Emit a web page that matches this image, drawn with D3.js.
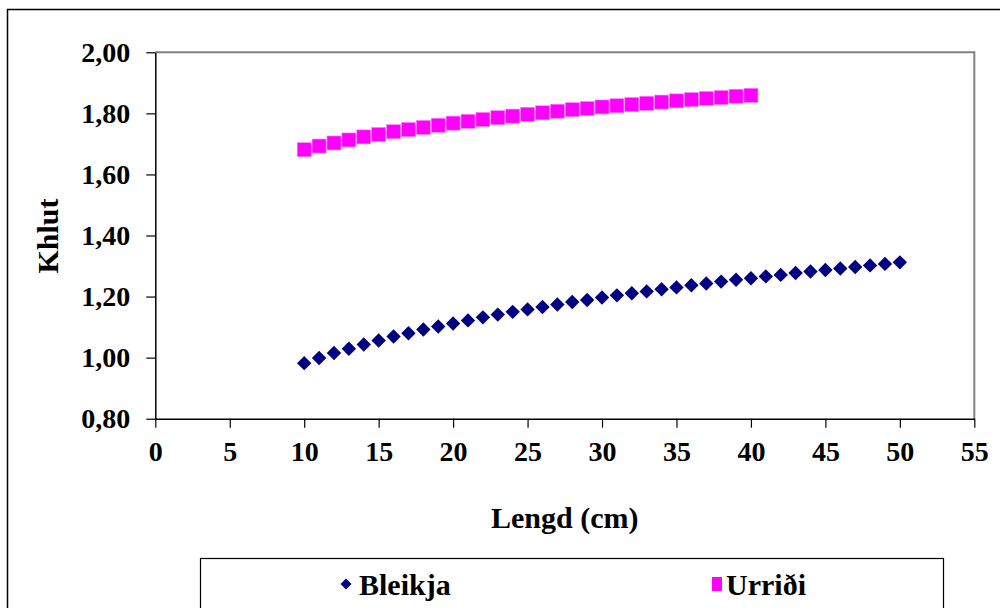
<!DOCTYPE html>
<html><head><meta charset="utf-8">
<script src="https://cdn.jsdelivr.net/npm/d3@7"></script>
<style>
html,body{margin:0;padding:0;background:#fff;}
svg{display:block;}
</style></head>
<body>
<svg id="chart" width="1000" height="608"></svg>
<script>
const lengthsBleikja = d3.range(10, 51);
const valuesBleikja = [0.982,0.999,1.015,1.029,1.043,1.056,1.069,1.080,1.092,1.102,
  1.112,1.122,1.132,1.141,1.150,1.158,1.166,1.174,1.182,1.189,
  1.197,1.204,1.211,1.217,1.224,1.230,1.237,1.243,1.249,1.255,
  1.260,1.266,1.271,1.277,1.282,1.287,1.292,1.297,1.302,1.307,1.312];
const lengthsUrridi = d3.range(10, 41);
const valuesUrridi = [1.681,1.693,1.703,1.713,1.723,1.731,1.740,1.747,1.754,1.761,
  1.768,1.774,1.780,1.786,1.791,1.797,1.802,1.807,1.812,1.816,
  1.821,1.825,1.829,1.833,1.837,1.841,1.845,1.849,1.852,1.856,1.859];
const xTicks = [0,5,10,15,20,25,30,35,40,45,50,55];
const yTicks = [0.8,1.0,1.2,1.4,1.6,1.8,2.0];
const seriesNames = ["Bleikja","Urriði"];
const xTitle = "Lengd (cm)";
const yTitle = "Khlut";

const FONT = "'Liberation Serif', Tinos, 'Times New Roman', Times, 'DejaVu Serif', serif";
const svg = d3.select("#chart");
const L = 155.3, R = 974.3, T = 52.3, B = 418.7;
const x = d3.scaleLinear().domain([0,55]).range([L,R]);
const y = d3.scaleLinear().domain([0.8,2.0]).range([B,T]);
const fmt = d => d3.format(".2f")(d).replace(".", ",");
const styleText = (sel, size) => sel.attr("font-family", FONT).attr("font-weight","bold")
  .attr("font-size", size || 28).attr("fill","#000");

// outer chart border
svg.append("rect").attr("x",7.5).attr("y",9.5).attr("width",1010).attr("height",620)
  .attr("fill","none").attr("stroke","#000").attr("stroke-width",1.5);

// plot border top/right (gray)
svg.append("path").attr("d",`M${L},${T}H${R}V${B}`).attr("fill","none")
  .attr("stroke","#808080").attr("stroke-width",2);

// axes
const xAxis = svg.append("g").attr("transform",`translate(0,${B})`)
  .call(d3.axisBottom(x).tickValues(xTicks).tickSize(9).tickPadding(13).tickSizeOuter(0));
const yAxis = svg.append("g").attr("transform",`translate(${L},0)`)
  .call(d3.axisLeft(y).tickValues(yTicks).tickFormat(fmt).tickSize(9).tickPadding(16).tickSizeOuter(0));
[xAxis,yAxis].forEach(g=>{
  g.attr("font-family", FONT).attr("font-size", 28).attr("font-weight","bold");
  g.selectAll("path.domain").attr("stroke","#000").attr("stroke-width",1.5);
  g.selectAll(".tick line").attr("stroke","#000").attr("stroke-width",1.2);
  g.selectAll(".tick text").call(styleText, 28);
});
xAxis.selectAll(".tick text").attr("dy","0.71em");

// titles
svg.append("text").attr("x",(L+R)/2).attr("y",528).attr("text-anchor","middle")
  .call(styleText, 30).text(xTitle);
svg.append("text").attr("transform",`translate(58,236) rotate(-90)`).attr("text-anchor","middle")
  .call(styleText, 30).text(yTitle);

// markers
const diamond = (cx,cy,r)=>`M${cx},${cy-r}L${cx+r},${cy}L${cx},${cy+r}L${cx-r},${cy}Z`;
svg.append("g").selectAll("path").data(lengthsBleikja.map((l,i)=>[l,valuesBleikja[i]]))
  .join("path").attr("d",d=>diamond(x(d[0]),y(d[1]),7.2)).attr("fill","#000080");
const s = 14;
svg.append("g").selectAll("rect").data(lengthsUrridi.map((l,i)=>[l,valuesUrridi[i]]))
  .join("rect").attr("x",d=>x(d[0])-s/2).attr("y",d=>y(d[1])-s/2)
  .attr("width",s).attr("height",s).attr("fill","#ff00ff")
  .attr("stroke","#ff7fff").attr("stroke-width",0.6);

// legend
svg.append("rect").attr("x",200.5).attr("y",558.5).attr("width",743).attr("height",80)
  .attr("fill","#fff").attr("stroke","#000").attr("stroke-width",1.2);
svg.append("path").attr("d",diamond(346,584,5.5)).attr("fill","#000080");
svg.append("text").attr("x",359).attr("y",595).call(styleText, 30).text(seriesNames[0]);
svg.append("rect").attr("x",712).attr("y",577).attr("width",10).attr("height",14).attr("fill","#ff00ff");
svg.append("text").attr("x",726).attr("y",595).call(styleText, 30).text(seriesNames[1]);
</script>
</body></html>
